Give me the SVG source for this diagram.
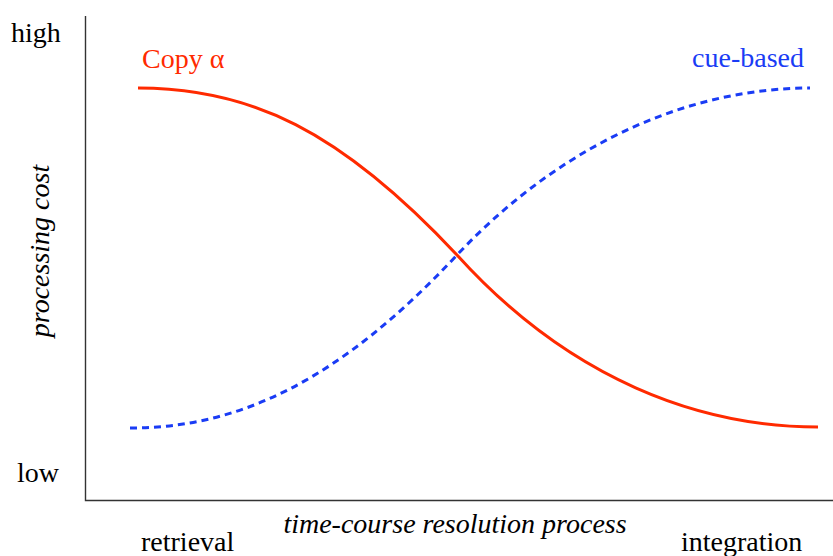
<svg xmlns="http://www.w3.org/2000/svg" width="833" height="556" viewBox="0 0 833 556">
  <style>
    .lbl { font-family: "Liberation Serif", "Times New Roman", serif; font-size: 28px; fill: #000; }
    .it { font-style: italic; }
    .axis { stroke: #333; stroke-width: 1.4; fill: none; }
    .copy { stroke: #ff2a00; stroke-width: 3; fill: none; }
    .cue { stroke: #1a3cf5; stroke-width: 3; fill: none; stroke-dasharray: 7 5; }
  </style>
  <rect width="833" height="556" fill="#fff"/>
  <g id="axes">
    <path class="axis" d="M85.5,16 V500.5 H833"/>
  </g>
  <g id="curves">
    <path id="copy-alpha" class="copy" d="M138,88 C250,88 340,130 457,255 C570,380 700,427 818,427"/>
    <path id="cue-based" class="cue" d="M130,428 C240,428 340,380 457,255 C570,135 700,88 810,88"/>
  </g>
  <g id="labels">
    <text class="lbl" x="11" y="42">high</text>
    <text class="lbl" x="17" y="482">low</text>
    <text class="lbl" x="142" y="68" style="fill:#ff2a00">Copy α</text>
    <text class="lbl" x="804" y="67" text-anchor="end" style="fill:#1a3cf5">cue-based</text>
    <text class="lbl it" transform="translate(49,251) rotate(-90)" text-anchor="middle">processing cost</text>
    <text class="lbl it" x="455" y="533" text-anchor="middle">time-course resolution process</text>
    <text class="lbl" x="141" y="551">retrieval</text>
    <text class="lbl" x="681" y="551">integration</text>
  </g>
</svg>
